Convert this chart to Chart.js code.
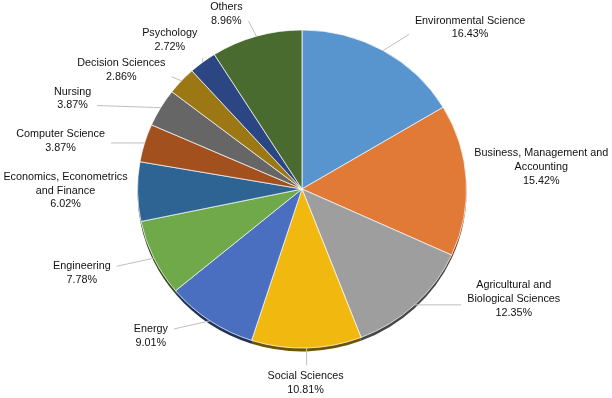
<!DOCTYPE html>
<html>
<head>
<meta charset="utf-8">
<script src="https://cdn.jsdelivr.net/npm/chart.js@4"></script>
<style>
    html, body { margin: 0; padding: 0; background: #ffffff; }
    #chartBox { width: 612px; height: 398px; }
</style>
</head>
<body>
<div id="chartBox"><canvas id="pieChart" width="612" height="398"></canvas></div>
<script>
// Subject areas (multi-line entries are wrapped the way the labels are)
const categories = [
    'Environmental Science',
    ['Business, Management and', 'Accounting'],
    ['Agricultural and', 'Biological Sciences'],
    'Social Sciences',
    'Energy',
    'Engineering',
    ['Economics, Econometrics', 'and Finance'],
    'Computer Science',
    'Nursing',
    'Decision Sciences',
    'Psychology',
    'Others'
];
const shares = [16.43, 15.42, 12.35, 10.81, 9.01, 7.78, 6.02, 3.87, 3.87, 2.86, 2.72, 8.96];

const sliceColors = [
    '#5895cf', '#e07a36', '#9e9e9e', '#f1b80f', '#4a6fc1', '#6fa94a',
    '#2d6494', '#a3501f', '#666666', '#9c7815', '#2b4682', '#4a6b30'
];

// label placement relative to the slice edge (layout only)
const labelOffsets = [
    [87, -23], [75, -13], [99, -6], [-1, 35], [-59, 15], [-72, 15],
    [-72, -1], [-84, -2], [-88, -9], [-60, -11], [-33, -22], [-30, -22]
];
const showLeader = [true, false, true, true, true, true, false, true, true, true, true, true];

const Y_SQUASH = 0.967;
const FONT = '10.8px "Liberation Sans", Arial, sans-serif';
const LINE_H = 13.7;

function darken(hex, f) {
    const n = parseInt(hex.slice(1), 16);
    const r = Math.round(((n >> 16) & 255) * f);
    const g = Math.round(((n >> 8) & 255) * f);
    const b = Math.round((n & 255) * f);
    return `rgb(${r},${g},${b})`;
}

// squash the pie a little and draw the dark rim under it
const tiltPlugin = {
    id: 'tilt',
    beforeDatasetsDraw(chart) {
        const ctx = chart.ctx;
        const arcs = chart.getDatasetMeta(0).data;
        if (!arcs.length) return;
        const cx = arcs[0].x, cy = arcs[0].y;
        ctx.save();
        ctx.translate(cx, cy);
        ctx.scale(1, Y_SQUASH);
        ctx.translate(-cx, -cy);
        arcs.forEach((arc, i) => {
            const { x, y, startAngle, endAngle, outerRadius } = arc.getProps(['x', 'y', 'startAngle', 'endAngle', 'outerRadius']);
            ctx.beginPath();
            ctx.moveTo(x, y + 3.5);
            ctx.arc(x, y + 3.5, outerRadius, startAngle, endAngle);
            ctx.closePath();
            ctx.fillStyle = darken(sliceColors[i], 0.45);
            ctx.fill();
        });
    },
    afterDatasetsDraw(chart) {
        chart.ctx.restore();
    }
};

// outside labels with leader lines
const outLabelPlugin = {
    id: 'outLabels',
    afterDraw(chart) {
        const ctx = chart.ctx;
        const arcs = chart.getDatasetMeta(0).data;
        ctx.save();
        ctx.font = FONT;
        ctx.textAlign = 'center';
        ctx.textBaseline = 'middle';
        arcs.forEach((arc, i) => {
            const { x, y, startAngle, endAngle, outerRadius } = arc.getProps(['x', 'y', 'startAngle', 'endAngle', 'outerRadius']);
            const mid = (startAngle + endAngle) / 2;
            const ax = x + outerRadius * Math.cos(mid);
            const ay = y + outerRadius * Math.sin(mid) * Y_SQUASH;
            const name = Array.isArray(categories[i]) ? categories[i] : [categories[i]];
            const lines = name.concat([shares[i].toFixed(2) + '%']);
            const lx = ax + labelOffsets[i][0];
            const ly = ay + labelOffsets[i][1];
            const w = Math.max(...lines.map(l => ctx.measureText(l).width));
            const h = lines.length * LINE_H;

            if (showLeader[i]) {
                const bx0 = lx - w / 2 - 6, bx1 = lx + w / 2 + 6;
                const by0 = ly - h / 4, by1 = ly + h / 4;
                let ex = Math.min(Math.max(ax, bx0), bx1);
                let ey = Math.min(Math.max(ay, by0), by1);
                if (ex > bx0 && ex < bx1) {
                    ey = ay < ly ? ly - h / 2 - 4 : ly + h / 2 + 4;
                }
                ctx.beginPath();
                ctx.moveTo(ax, ay);
                ctx.lineTo(ex, ey);
                ctx.strokeStyle = '#bfbfbf';
                ctx.lineWidth = 1;
                ctx.stroke();
            }

            ctx.fillStyle = '#111111';
            lines.forEach((l, k) => {
                ctx.fillText(l, lx, ly - h / 2 + LINE_H * (k + 0.5));
            });
        });
        ctx.restore();
    }
};

new Chart(document.getElementById('pieChart').getContext('2d'), {
    type: 'pie',
    data: {
        labels: categories,
        datasets: [{
            data: shares,
            backgroundColor: sliceColors,
            borderColor: 'rgba(255,255,255,0.75)',
            borderWidth: 1
        }]
    },
    options: {
        responsive: false,
        animation: false,
        events: [],
        layout: {
            padding: { left: 137, right: 145, top: 24, bottom: 44 }
        },
        plugins: {
            legend: { display: false },
            tooltip: { enabled: false }
        }
    },
    plugins: [tiltPlugin, outLabelPlugin]
});
</script>
</body>
</html>
